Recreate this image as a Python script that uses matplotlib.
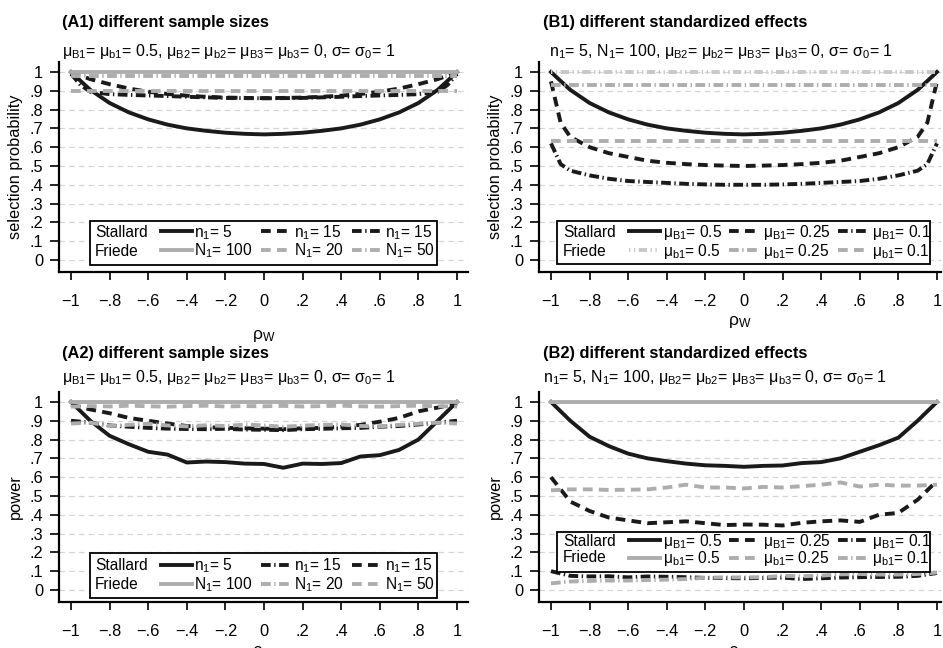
import matplotlib.pyplot as plt
from matplotlib.patches import Rectangle

plt.rcParams['font.family'] = ['Liberation Sans', 'DejaVu Sans']
plt.rcParams['mathtext.fontset'] = 'custom'
plt.rcParams['mathtext.rm'] = 'Liberation Sans'
plt.rcParams['mathtext.it'] = 'Liberation Sans:italic'
plt.rcParams['lines.scale_dashes'] = False

# ---- data ----
# rho_w grid (selection-probability panels have extra points near the ends)
rho_sel = [-1, -0.95, -0.9, -0.8, -0.7, -0.6, -0.5, -0.4, -0.3, -0.2, -0.1, 0,
           0.1, 0.2, 0.3, 0.4, 0.5, 0.6, 0.7, 0.8, 0.9, 0.95, 1]
rho_pow = [-1, -0.9, -0.8, -0.7, -0.6, -0.5, -0.4, -0.3, -0.2, -0.1, 0,
           0.1, 0.2, 0.3, 0.4, 0.5, 0.6, 0.7, 0.8, 0.9, 1]

# (A1) selection probability, different sample sizes
a1_stallard_n5 = [1.0, 0.952, 0.905, 0.835, 0.785, 0.748, 0.72, 0.70, 0.687, 0.677, 0.671, 0.668,
                  0.671, 0.677, 0.687, 0.70, 0.72, 0.748, 0.785, 0.835, 0.905, 0.952, 1.0]
a1_stallard_n15a = [1.0, 0.98, 0.962, 0.935, 0.912, 0.895, 0.883, 0.874, 0.868, 0.864, 0.862, 0.861,
                    0.862, 0.864, 0.868, 0.874, 0.883, 0.895, 0.912, 0.935, 0.962, 0.98, 1.0]
a1_stallard_n15b = [0.99, 0.93, 0.895, 0.882, 0.878, 0.875, 0.872, 0.868, 0.865, 0.862, 0.861, 0.86,
                    0.861, 0.862, 0.865, 0.868, 0.872, 0.875, 0.878, 0.882, 0.895, 0.93, 0.99]
a1_friede_N100 = [1.0, 1.0, 1.0, 1.0, 1.0, 1.0, 1.0, 1.0, 1.0, 1.0, 1.0, 1.0,
                  1.0, 1.0, 1.0, 1.0, 1.0, 1.0, 1.0, 1.0, 1.0, 1.0, 1.0]
a1_friede_N20 = [0.9, 0.9, 0.9, 0.9, 0.9, 0.9, 0.9, 0.9, 0.9, 0.9, 0.9, 0.9,
                 0.9, 0.9, 0.9, 0.9, 0.9, 0.9, 0.9, 0.9, 0.9, 0.9, 0.9]
a1_friede_N50 = [0.978, 0.978, 0.978, 0.978, 0.978, 0.978, 0.978, 0.978, 0.978, 0.978, 0.978, 0.978,
                 0.978, 0.978, 0.978, 0.978, 0.978, 0.978, 0.978, 0.978, 0.978, 0.978, 0.978]

# (B1) selection probability, different standardized effects
b1_stallard_05 = [1.0, 0.952, 0.905, 0.835, 0.785, 0.748, 0.72, 0.70, 0.687, 0.677, 0.671, 0.668,
                  0.671, 0.677, 0.687, 0.70, 0.72, 0.748, 0.785, 0.835, 0.905, 0.952, 1.0]
b1_stallard_025 = [0.95, 0.73, 0.655, 0.60, 0.568, 0.548, 0.528, 0.517, 0.51, 0.505, 0.502, 0.50,
                   0.502, 0.505, 0.51, 0.517, 0.528, 0.548, 0.568, 0.60, 0.655, 0.73, 0.95]
b1_stallard_01 = [0.62, 0.51, 0.475, 0.45, 0.432, 0.42, 0.415, 0.41, 0.405, 0.402, 0.40, 0.40,
                  0.40, 0.402, 0.405, 0.41, 0.415, 0.42, 0.432, 0.45, 0.475, 0.51, 0.62]
b1_friede_05 = [1.0, 1.0, 1.0, 1.0, 1.0, 1.0, 1.0, 1.0, 1.0, 1.0, 1.0, 1.0,
                1.0, 1.0, 1.0, 1.0, 1.0, 1.0, 1.0, 1.0, 1.0, 1.0, 1.0]
b1_friede_025 = [0.93, 0.93, 0.93, 0.93, 0.93, 0.93, 0.93, 0.93, 0.93, 0.93, 0.93, 0.93,
                 0.93, 0.93, 0.93, 0.93, 0.93, 0.93, 0.93, 0.93, 0.93, 0.93, 0.93]
b1_friede_01 = [0.635, 0.635, 0.635, 0.635, 0.635, 0.635, 0.635, 0.635, 0.635, 0.635, 0.635, 0.635,
                0.635, 0.635, 0.635, 0.635, 0.635, 0.635, 0.635, 0.635, 0.635, 0.635, 0.635]

# (A2) power, different sample sizes
a2_stallard_n5 = [1.0, 0.90, 0.82, 0.775, 0.735, 0.72, 0.678, 0.683, 0.68, 0.672, 0.67,
                  0.65, 0.672, 0.67, 0.675, 0.71, 0.717, 0.745, 0.80, 0.90, 1.0]
a2_stallard_n15a = [0.90, 0.89, 0.875, 0.868, 0.862, 0.858, 0.856, 0.855, 0.857, 0.853, 0.852,
                    0.85, 0.855, 0.857, 0.86, 0.862, 0.868, 0.872, 0.88, 0.89, 0.90]
a2_stallard_n15b = [0.985, 0.96, 0.94, 0.915, 0.90, 0.885, 0.872, 0.866, 0.862, 0.86, 0.858,
                    0.855, 0.86, 0.862, 0.868, 0.878, 0.895, 0.915, 0.95, 0.97, 0.99]
a2_friede_N100 = [0.999, 0.999, 0.999, 0.999, 0.999, 0.999, 0.999, 0.999, 0.999, 0.999, 0.999,
                  0.999, 0.999, 0.999, 0.999, 0.999, 0.999, 0.999, 0.999, 0.999, 0.999]
a2_friede_N20 = [0.885, 0.89, 0.872, 0.878, 0.884, 0.875, 0.87, 0.876, 0.872, 0.88, 0.875,
                 0.868, 0.874, 0.878, 0.88, 0.872, 0.87, 0.878, 0.884, 0.89, 0.885]
a2_friede_N50 = [0.975, 0.978, 0.976, 0.98, 0.977, 0.975, 0.978, 0.98, 0.976, 0.978, 0.977,
                 0.979, 0.976, 0.978, 0.98, 0.977, 0.975, 0.978, 0.98, 0.977, 0.976]

# (B2) power, different standardized effects
b2_stallard_05 = [1.0, 0.90, 0.815, 0.765, 0.725, 0.70, 0.685, 0.672, 0.663, 0.66, 0.655,
                  0.66, 0.662, 0.675, 0.68, 0.70, 0.735, 0.77, 0.81, 0.90, 1.0]
b2_stallard_025 = [0.60, 0.47, 0.42, 0.385, 0.37, 0.355, 0.36, 0.365, 0.355, 0.345, 0.348,
                   0.347, 0.343, 0.357, 0.365, 0.37, 0.362, 0.40, 0.41, 0.48, 0.58]
b2_stallard_01 = [0.10, 0.075, 0.072, 0.073, 0.067, 0.072, 0.07, 0.068, 0.064, 0.063, 0.062,
                  0.064, 0.066, 0.058, 0.062, 0.066, 0.068, 0.069, 0.07, 0.075, 0.09]
b2_friede_05 = [0.999, 0.999, 0.999, 0.999, 0.999, 0.999, 0.999, 0.999, 0.999, 0.999, 0.999,
                0.999, 0.999, 0.999, 0.999, 0.999, 0.999, 0.999, 0.999, 0.999, 0.999]
b2_friede_025 = [0.53, 0.535, 0.535, 0.532, 0.533, 0.535, 0.545, 0.56, 0.545, 0.545, 0.54,
                 0.548, 0.545, 0.552, 0.56, 0.572, 0.55, 0.56, 0.555, 0.555, 0.56]
b2_friede_01 = [0.035, 0.045, 0.048, 0.05, 0.05, 0.053, 0.055, 0.058, 0.065, 0.067, 0.067,
                0.068, 0.075, 0.073, 0.076, 0.083, 0.085, 0.082, 0.082, 0.085, 0.093]

y_ticks = [0, 0.1, 0.2, 0.3, 0.4, 0.5, 0.6, 0.7, 0.8, 0.9, 1]
y_tick_labels = ['0', '.1', '.2', '.3', '.4', '.5', '.6', '.7', '.8', '.9', '1']
x_ticks = [-1, -0.8, -0.6, -0.4, -0.2, 0, 0.2, 0.4, 0.6, 0.8, 1]
x_tick_labels = ['\u22121', '\u2212.8', '\u2212.6', '\u2212.4', '\u2212.2', '0', '.2', '.4', '.6', '.8', '1']

BLACK = '#1a1a1a'
GRAY = '#adadad'
LW = 2.8
SOLID = '-'
DASH = (0, (7, 4.5))
DASHDOT = (0, (7, 2.5, 1, 2.5))
DOTDASH = (0, (1, 2.5, 1, 2.5, 6, 2.5))


def sub(s):
    return r'$_\mathregular{' + s + '}$'


def style_axes(ax, xlim, ylabel, xlabel_y, ylabel_x):
    ax.set_xlim(*xlim)
    ax.set_ylim(-0.064, 1.053)
    ax.set_yticks(y_ticks)
    ax.set_yticklabels(y_tick_labels)
    ax.set_xticks(x_ticks)
    ax.set_xticklabels(x_tick_labels)
    ax.grid(axis='y', color='#d4d4d4', linestyle=(0, (4, 3)), linewidth=0.9)
    ax.set_axisbelow(True)
    for side in ['top', 'right']:
        ax.spines[side].set_visible(False)
    for side in ['left', 'bottom']:
        ax.spines[side].set_linewidth(1.6)
    ax.tick_params(axis='y', length=6.5, width=1.2, pad=5, labelsize=11.8)
    ax.tick_params(axis='x', length=5.5, width=1.2, pad=10, labelsize=11.8)
    ax.set_ylabel(ylabel, fontsize=11.8)
    ax.yaxis.set_label_coords(ylabel_x, 0.5)
    ax.set_xlabel(r'ρ$_\mathregular{W}$', fontsize=12.5)
    ax.xaxis.set_label_coords(0.5, xlabel_y)


def add_legend(ax, handles, labels, box, text_x, handle_x, rows_y, spacing):
    rect = Rectangle((box[0], box[1]), box[2] - box[0], box[3] - box[1], transform=ax.transAxes,
                     facecolor='white', edgecolor='black', linewidth=1.3, zorder=5)
    ax.add_patch(rect)
    leg = ax.legend(handles, labels, ncol=3, loc='center left',
                    bbox_to_anchor=(handle_x, (rows_y[0] + rows_y[1]) / 2),
                    frameon=False, borderpad=0, borderaxespad=0, handlelength=2.0,
                    handletextpad=0.15, columnspacing=0.5, labelspacing=spacing, fontsize=11.2)
    leg.set_zorder(6)
    ax.text(text_x, rows_y[0], 'Stallard', transform=ax.transAxes, fontsize=11.2, va='center', zorder=7)
    ax.text(text_x, rows_y[1], 'Friede', transform=ax.transAxes, fontsize=11.2, va='center', zorder=7)


fig = plt.figure(figsize=(9.43, 6.48), dpi=100)
ax_a1 = fig.add_axes([0.0626, 0.5802, 0.4337, 0.3241])
ax_b1 = fig.add_axes([0.5716, 0.5802, 0.4263, 0.3241])
ax_a2 = fig.add_axes([0.0626, 0.0710, 0.4337, 0.3241])
ax_b2 = fig.add_axes([0.5716, 0.0710, 0.4263, 0.3241])

# ---- (A1) ----
l1, = ax_a1.plot(rho_sel, a1_stallard_n5, color=BLACK, lw=LW, ls=SOLID)
l2, = ax_a1.plot(rho_sel, a1_stallard_n15a, color=BLACK, lw=LW, ls=DASH)
l3, = ax_a1.plot(rho_sel, a1_stallard_n15b, color=BLACK, lw=LW, ls=DASHDOT)
g1, = ax_a1.plot(rho_sel, a1_friede_N100, color=GRAY, lw=LW, ls=SOLID)
g2, = ax_a1.plot(rho_sel, a1_friede_N20, color=GRAY, lw=LW, ls=DASH)
g3, = ax_a1.plot(rho_sel, a1_friede_N50, color=GRAY, lw=LW, ls=DASHDOT)
style_axes(ax_a1, (-1.062, 1.057), 'selection probability', -0.268, -0.088)
add_legend(ax_a1, [l1, g1, l2, g2, l3, g3],
           ['n' + sub('1') + '= 5', 'N' + sub('1') + '= 100', 'n' + sub('1') + '= 15',
            'N' + sub('1') + '= 20', 'n' + sub('1') + '= 15', 'N' + sub('1') + '= 50'],
           (0.076, 0.033, 0.924, 0.243), 0.088, 0.249, (0.19, 0.10), 0.0)

# ---- (B1) ----
l1, = ax_b1.plot(rho_sel, b1_stallard_05, color=BLACK, lw=LW, ls=SOLID)
l2, = ax_b1.plot(rho_sel, b1_stallard_025, color=BLACK, lw=LW, ls=DASH)
l3, = ax_b1.plot(rho_sel, b1_stallard_01, color=BLACK, lw=LW, ls=DASHDOT)
g1, = ax_b1.plot(rho_sel, b1_friede_05, color='#c8c8c8', lw=LW, ls=DOTDASH)
g2, = ax_b1.plot(rho_sel, b1_friede_025, color=GRAY, lw=LW, ls=DASHDOT)
g3, = ax_b1.plot(rho_sel, b1_friede_01, color=GRAY, lw=LW, ls=DASH)
style_axes(ax_b1, (-1.062, 1.021), 'selection probability', -0.2, -0.09)
add_legend(ax_b1, [l1, g1, l2, g2, l3, g3],
           ['μ' + sub('B1') + '= 0.5', 'μ' + sub('b1') + '= 0.5', 'μ' + sub('B1') + '= 0.25',
            'μ' + sub('b1') + '= 0.25', 'μ' + sub('B1') + '= 0.1', 'μ' + sub('b1') + '= 0.1'],
           (0.045, 0.038, 0.973, 0.243), 0.06, 0.224, (0.19, 0.10), 0.0)

# ---- (A2) ----
l1, = ax_a2.plot(rho_pow, a2_stallard_n5, color=BLACK, lw=LW, ls=SOLID)
l2, = ax_a2.plot(rho_pow, a2_stallard_n15a, color=BLACK, lw=LW, ls=DASHDOT)
l3, = ax_a2.plot(rho_pow, a2_stallard_n15b, color=BLACK, lw=LW, ls=DASH)
g1, = ax_a2.plot(rho_pow, a2_friede_N100, color=GRAY, lw=LW, ls=SOLID)
g2, = ax_a2.plot(rho_pow, a2_friede_N20, color=GRAY, lw=LW, ls=DASHDOT)
g3, = ax_a2.plot(rho_pow, a2_friede_N50, color=GRAY, lw=LW, ls=DASH)
style_axes(ax_a2, (-1.062, 1.057), 'power', -0.2, -0.088)
add_legend(ax_a2, [l1, g1, l2, g2, l3, g3],
           ['n' + sub('1') + '= 5', 'N' + sub('1') + '= 100', 'n' + sub('1') + '= 15',
            'N' + sub('1') + '= 20', 'n' + sub('1') + '= 15', 'N' + sub('1') + '= 50'],
           (0.076, 0.02, 0.924, 0.233), 0.088, 0.249, (0.172, 0.082), 0.0)

# ---- (B2) ----
l1, = ax_b2.plot(rho_pow, b2_stallard_05, color=BLACK, lw=LW, ls=SOLID)
l2, = ax_b2.plot(rho_pow, b2_stallard_025, color=BLACK, lw=LW, ls=DASH)
l3, = ax_b2.plot(rho_pow, b2_stallard_01, color=BLACK, lw=LW, ls=DASHDOT)
g1, = ax_b2.plot(rho_pow, b2_friede_05, color=GRAY, lw=LW, ls=SOLID)
g2, = ax_b2.plot(rho_pow, b2_friede_025, color=GRAY, lw=LW, ls=DASH)
g3, = ax_b2.plot(rho_pow, b2_friede_01, color=GRAY, lw=LW, ls=DASHDOT)
style_axes(ax_b2, (-1.062, 1.021), 'power', -0.2, -0.09)
add_legend(ax_b2, [l1, g1, l2, g2, l3, g3],
           ['μ' + sub('B1') + '= 0.5', 'μ' + sub('b1') + '= 0.5', 'μ' + sub('B1') + '= 0.25',
            'μ' + sub('b1') + '= 0.25', 'μ' + sub('B1') + '= 0.1', 'μ' + sub('b1') + '= 0.1'],
           (0.045, 0.143, 0.973, 0.333), 0.06, 0.224, (0.287, 0.21), -0.1)

# ---- titles ----
sub_a = ('μ' + sub('B1') + '= μ' + sub('b1') + '= 0.5, μ' + sub('B2') + '= μ' + sub('b2') +
         '= μ' + sub('B3') + '= μ' + sub('b3') + '= 0, σ= σ' + sub('0') + '= 1')
sub_b = ('n' + sub('1') + '= 5, N' + sub('1') + '= 100, μ' + sub('B2') + '= μ' + sub('b2') +
         '= μ' + sub('B3') + '= μ' + sub('b3') + '= 0, σ= σ' + sub('0') + '= 1')
fig.text(0.0657, 0.966, '(A1) different sample sizes', fontsize=11.8, fontweight='bold', va='center')
fig.text(0.0657, 0.921, sub_a, fontsize=11.5, va='center')
fig.text(0.5758, 0.966, '(B1) different standardized effects', fontsize=11.8, fontweight='bold', va='center')
fig.text(0.582, 0.921, sub_b, fontsize=11.5, va='center')
fig.text(0.0657, 0.4552, '(A2) different sample sizes', fontsize=11.8, fontweight='bold', va='center')
fig.text(0.0657, 0.4167, sub_a, fontsize=11.5, va='center')
fig.text(0.5758, 0.4552, '(B2) different standardized effects', fontsize=11.8, fontweight='bold', va='center')
fig.text(0.5758, 0.4167, sub_b, fontsize=11.5, va='center')

fig.savefig('out.png', dpi=100)
